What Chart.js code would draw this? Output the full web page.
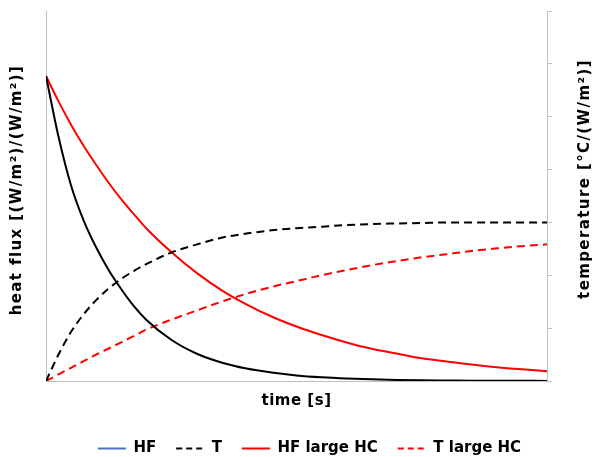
<!DOCTYPE html>
<html>
<head>
<meta charset="utf-8">
<script src="https://cdn.jsdelivr.net/npm/chart.js@4/dist/chart.umd.min.js"></script>
<style>
  html, body { margin: 0; padding: 0; background: #fff; }
  #wrap { width: 595px; height: 457px; }
</style>
</head>
<body>
<div id="wrap"><canvas id="c" width="595" height="457"></canvas></div>
<script>
// ---- data ----
const times = [0, 2.5, 5, 7.5, 10, 12.5, 15, 17.5, 20, 25, 30, 35, 40, 45, 50, 55, 60, 65, 70, 75, 80, 85, 90, 95, 100];
const hf = [5.77, 4.62, 3.70, 3.04, 2.53, 2.10, 1.74, 1.42, 1.16, 0.78, 0.52, 0.35, 0.235, 0.16, 0.105, 0.07, 0.047, 0.032, 0.021, 0.014, 0.01, 0.006, 0.004, 0.003, 0.002];
const temp = [0, 0.50, 0.93, 1.26, 1.53, 1.75, 1.93, 2.08, 2.21, 2.43, 2.58, 2.71, 2.79, 2.85, 2.89, 2.92, 2.95, 2.97, 2.98, 2.99, 3.0, 3.0, 3.0, 3.0, 3.0];
const hfLarge = [5.77, 5.29, 4.85, 4.45, 4.09, 3.75, 3.44, 3.16, 2.89, 2.44, 2.05, 1.72, 1.45, 1.22, 1.03, 0.87, 0.73, 0.61, 0.52, 0.43, 0.37, 0.31, 0.26, 0.22, 0.185];
const tempLarge = [0, 0.125, 0.25, 0.375, 0.50, 0.615, 0.73, 0.85, 0.97, 1.16, 1.33, 1.50, 1.65, 1.78, 1.89, 2.00, 2.10, 2.19, 2.27, 2.34, 2.40, 2.46, 2.51, 2.55, 2.585];
const seriesNames = ['HF', 'T', 'HF large HC', 'T large HC'];
const xTitle = 'time [s]';
const yTitle = 'heat flux [(W/m²)/(W/m²)]';
const y1Title = 'temperature [°C/(W/m²)]';
const yMin = 0, yMax = 7;

const pts = arr => arr.map((v, i) => ({ x: times[i], y: v }));
const FONT = '"DejaVu Sans", Verdana, sans-serif';
const AXIS = '#bfbfbf';

const axisTitles = {
  id: 'axisTitles',
  afterDraw(chart) {
    const { ctx, chartArea: a } = chart;
    ctx.save();
    ctx.font = 'bold 15px ' + FONT;
    ctx.fillStyle = '#000';
    ctx.textAlign = 'center';
    ctx.textBaseline = 'middle';
    ctx.letterSpacing = '0.5px';
    ctx.fillText(xTitle, (a.left + a.right) / 2, a.bottom + 20);
    ctx.letterSpacing = '1.4px';
    ctx.save();
    ctx.translate(a.left - 29, 190);
    ctx.rotate(-Math.PI / 2);
    ctx.fillText(yTitle, 0, 0);
    ctx.restore();
    ctx.save();
    ctx.translate(a.right + 38, 179);
    ctx.rotate(-Math.PI / 2);
    ctx.fillText(y1Title, 0, 0);
    ctx.restore();
    ctx.restore();
  }
};

const legendShift = {
  id: 'legendShift',
  afterLayout(chart) {
    const l = chart.legend;
    if (!l) return;
    l.top += 9; l.bottom += 9;
    l.left += 12; l.right += 12;
  }
};

new Chart(document.getElementById('c'), {
  type: 'line',
  data: {
    datasets: [
      { label: seriesNames[0], data: pts(hf), yAxisID: 'y', borderColor: '#000000', borderWidth: 2, pointRadius: 0, cubicInterpolationMode: 'monotone' },
      { label: seriesNames[1], data: pts(temp), yAxisID: 'y1', borderColor: '#000000', borderWidth: 2, borderDash: [8, 5], pointRadius: 0, cubicInterpolationMode: 'monotone' },
      { label: seriesNames[2], data: pts(hfLarge), yAxisID: 'y', borderColor: '#ff0000', borderWidth: 2, pointRadius: 0, cubicInterpolationMode: 'monotone' },
      { label: seriesNames[3], data: pts(tempLarge), yAxisID: 'y1', borderColor: '#ff0000', borderWidth: 2, borderDash: [8, 5], pointRadius: 0, cubicInterpolationMode: 'monotone' }
    ]
  },
  options: {
    responsive: false,
    animation: false,
    devicePixelRatio: 1,
    layout: { padding: { top: 11, left: 0, right: 0, bottom: 0 } },
    scales: {
      x: {
        type: 'linear', min: 0, max: 100,
        ticks: { display: false },
        grid: { display: false },
        border: { display: true, color: AXIS, width: 1 },
        afterFit(s) { s.height = 31; }
      },
      y: {
        position: 'left', min: yMin, max: yMax,
        ticks: { display: false, stepSize: 1 },
        grid: { display: false },
        border: { display: true, color: AXIS, width: 1 },
        afterFit(s) { s.width = 46; }
      },
      y1: {
        position: 'right', min: yMin, max: yMax,
        ticks: { display: false, stepSize: 1 },
        grid: { display: true, drawOnChartArea: false, drawTicks: true, tickLength: 5, color: AXIS },
        border: { display: true, color: AXIS, width: 1 },
        afterFit(s) { s.width = 48; }
      }
    },
    plugins: {
      tooltip: { enabled: false },
      legend: {
        position: 'bottom',
        labels: {
          usePointStyle: true,
          pointStyle: 'line',
          pointStyleWidth: 28,
          padding: 20,
          color: '#000',
          font: { family: FONT, size: 15, weight: 'bold' },
          generateLabels(chart) {
            const items = Chart.defaults.plugins.legend.labels.generateLabels(chart);
            items.forEach((it, i) => {
              const ds = chart.data.datasets[i];
              it.lineWidth = 2;
              it.pointStyle = 'line';
              it.strokeStyle = ds.borderColor;
              it.lineDash = ds.borderDash ? [6, 4] : [];
            });
            items[0].strokeStyle = '#4472c4';
            return items;
          }
        }
      }
    }
  },
  plugins: [axisTitles, legendShift]
});
</script>
</body>
</html>
